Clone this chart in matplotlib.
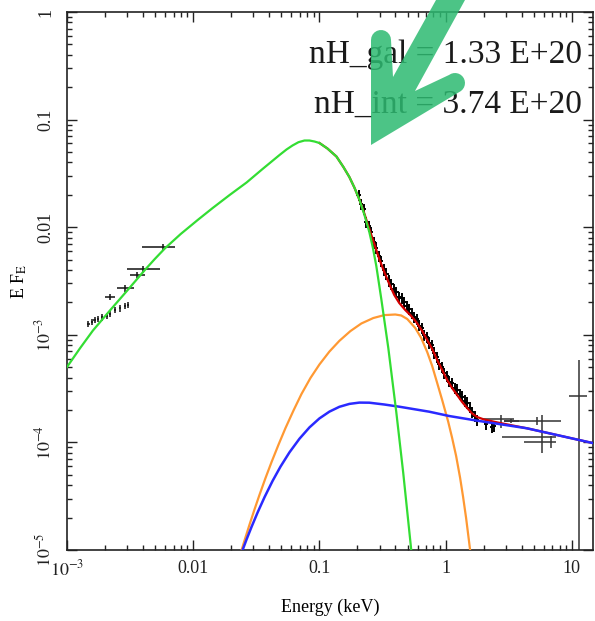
import numpy as np
import matplotlib.pyplot as plt
from matplotlib.patches import Polygon
from matplotlib.ticker import LogLocator, NullFormatter

plt.rcParams['font.family'] = ['Liberation Serif', 'DejaVu Serif']
plt.rcParams['mathtext.fontset'] = 'stix'

# ---- model curves (E in keV, E*F_E) ----
green_e = [1.000e-3, 1.267e-3, 1.605e-3, 2.187e-3, 2.980e-3, 4.136e-3, 4.961e-3, 5.952e-3,
           7.963e-3, 0.01085, 0.01426, 0.01943, 0.02647, 0.03543, 0.04829, 0.05484, 0.06117,
           0.06823, 0.07608, 0.08334, 0.09130, 0.1000, 0.1157, 0.1363, 0.1548, 0.1726, 0.1891,
           0.2071, 0.2268, 0.2484, 0.2648, 0.2822, 0.3091, 0.3512, 0.4062, 0.4613, 0.5337]
green_f = [5.02e-4, 7.49e-4, 1.096e-3, 1.681e-3, 2.554e-3, 4.001e-3, 5.063e-3, 6.339e-3,
           8.65e-3, 0.01167, 0.01508, 0.01992, 0.02603, 0.03475, 0.04688, 0.05274, 0.05746,
           0.06166, 0.06392, 0.06392, 0.06258, 0.06061, 0.05387, 0.04541, 0.03627, 0.02927, 0.02339,
           0.01809, 0.01312, 9.02e-3, 6.48e-3, 4.36e-3, 2.151e-3, 7.54e-4, 1.916e-4, 5.19e-5, 1.0e-5]

orange_e = [0.02417, 0.02600, 0.02796, 0.03063, 0.03355, 0.03742, 0.04175, 0.04742, 0.05385,
            0.06229, 0.07206, 0.08490, 0.1000, 0.1200, 0.1439, 0.1758, 0.2148, 0.2673, 0.3265,
            0.3988, 0.4448, 0.4963, 0.5741, 0.6401, 0.7140, 0.7820, 0.8567, 0.9383, 1.0464,
            1.1255, 1.2106, 1.3020, 1.3746, 1.4521, 1.5620]
orange_f = [1.0e-5, 1.320e-5, 1.729e-5, 2.394e-5, 3.272e-5, 4.68e-5, 6.57e-5, 9.54e-5, 1.361e-4,
            1.979e-4, 2.817e-4, 3.968e-4, 5.30e-4, 6.99e-4, 8.79e-4, 1.082e-3, 1.274e-3, 1.432e-3,
            1.524e-3, 1.544e-3, 1.512e-3, 1.402e-3, 1.157e-3, 9.34e-4, 6.92e-4, 5.13e-4, 3.565e-4,
            2.477e-4, 1.564e-4, 1.099e-4, 7.47e-5, 4.67e-5, 3.11e-5, 1.98e-5, 1.0e-5]

blue_e = [0.02462, 0.02647, 0.02900, 0.03236, 0.03674, 0.04251, 0.04916, 0.05791, 0.06948,
          0.08334, 0.1000, 0.1200, 0.1439, 0.1726, 0.2071, 0.2484, 0.3265, 0.4289, 0.7406,
          1.066, 1.784, 4.409, 14.93]
blue_f = [1.0e-5, 1.255e-5, 1.643e-5, 2.231e-5, 3.10e-5, 4.38e-5, 5.96e-5, 8.09e-5, 1.082e-4,
          1.378e-4, 1.671e-4, 1.932e-4, 2.142e-4, 2.279e-4, 2.344e-4, 2.339e-4, 2.250e-4, 2.147e-4,
          1.929e-4, 1.759e-4, 1.591e-4, 1.352e-4, 9.81e-5]

red_e = [0.1000, 0.1157, 0.1363, 0.1548, 0.1726, 0.1891, 0.2071, 0.2268, 0.2484, 0.2722, 0.2980,
         0.3265, 0.3576, 0.3916, 0.4289, 0.4784, 0.5337, 0.5845, 0.6519, 0.7140, 0.7820, 0.8567,
         0.9383, 1.0276, 1.1255, 1.2327, 1.3503, 1.4791, 1.6203, 1.7749, 2.016, 2.648, 4.409, 14.93]
red_f = [0.06061, 0.05387, 0.04541, 0.03627, 0.02927, 0.02339, 0.01809, 0.01341, 9.62e-3, 6.98e-3,
         5.06e-3, 3.834e-3, 2.966e-3, 2.344e-3, 1.975e-3, 1.700e-3, 1.495e-3, 1.315e-3, 1.085e-3,
         8.95e-4, 7.38e-4, 5.83e-4, 4.71e-4, 3.80e-4, 3.20e-4, 2.757e-4, 2.374e-4, 2.088e-4,
         1.856e-4, 1.722e-4, 1.632e-4, 1.521e-4, 1.352e-4, 9.81e-5]

# ---- optical / UV points ----
uv_e = [5.77e-3, 4.01e-3, 3.57e-3, 2.88e-3, 2.19e-3,
        1.47e-3, 1.58e-3, 1.66e-3, 1.76e-3, 1.89e-3, 2.07e-3, 2.19e-3, 2.39e-3, 2.62e-3, 2.87e-3, 3.03e-3]
uv_e_lo = [3.96e-3, 3.00e-3, 3.15e-3, 2.50e-3, 2.00e-3,
           1.43e-3, 1.54e-3, 1.62e-3, 1.72e-3, 1.85e-3, 2.02e-3, 2.14e-3, 2.34e-3, 2.56e-3, 2.81e-3, 2.97e-3]
uv_e_hi = [7.14e-3, 5.43e-3, 4.14e-3, 3.39e-3, 2.39e-3,
           1.51e-3, 1.62e-3, 1.70e-3, 1.80e-3, 1.93e-3, 2.12e-3, 2.24e-3, 2.44e-3, 2.68e-3, 2.93e-3, 3.09e-3]
uv_f = [6.5e-3, 4.06e-3, 3.6e-3, 2.70e-3, 2.26e-3,
        1.26e-3, 1.32e-3, 1.37e-3, 1.40e-3, 1.46e-3, 1.50e-3, 1.56e-3, 1.70e-3, 1.77e-3, 1.85e-3, 1.89e-3]
UV_REL_F = 0.07

# ---- X-ray points (soft band) ----
xr_e = [0.204, 0.214, 0.224, 0.234, 0.245, 0.257, 0.269, 0.282, 0.295, 0.309, 0.324, 0.339,
        0.355, 0.372, 0.389, 0.407, 0.427, 0.447, 0.468, 0.490, 0.513, 0.537, 0.562, 0.589,
        0.617, 0.646, 0.676, 0.708, 0.741, 0.776, 0.813, 0.851, 0.891, 0.933, 0.977, 1.023,
        1.072, 1.122, 1.175, 1.230, 1.288, 1.349, 1.413, 1.479, 1.549, 1.622, 1.698, 1.778,
        2.09, 2.33, 2.42]
xr_f = [0.01986, 0.01629, 0.01466, 0.01109, 0.01030, 8.93e-3, 7.26e-3, 6.46e-3, 5.37e-3, 4.85e-3,
        4.03e-3, 3.70e-3, 3.18e-3, 2.94e-3, 2.67e-3, 2.50e-3, 2.24e-3, 2.19e-3, 2.01e-3, 1.86e-3,
        1.72e-3, 1.59e-3, 1.46e-3, 1.39e-3, 1.22e-3, 1.16e-3, 1.00e-3, 9.55e-4, 8.45e-4, 8.04e-4,
        6.84e-4, 6.21e-4, 5.31e-4, 4.99e-4, 4.38e-4, 4.11e-4, 3.68e-4, 3.53e-4, 3.20e-4, 3.10e-4,
        2.81e-4, 2.67e-4, 2.44e-4, 2.34e-4, 2.11e-4, 1.90e-4, 1.75e-4, 1.61e-4,
        1.48e-4, 1.39e-4, 1.42e-4]
XR_REL_E = 0.04
XR_REL_F = 0.12

# ---- X-ray points (hard band, wide bins) ----
hx_e = [2.75, 3.30, 5.28, 5.79, 6.82, 11.35]
hx_e_lo = [1.94, 2.90, 2.90, 2.80, 4.18, 9.47]
hx_e_hi = [3.48, 3.81, 8.18, 7.48, 7.48, 13.2]
hx_f = [1.65e-4, 1.58e-4, 1.58e-4, 1.12e-4, 1.01e-4, 2.70e-4]
hx_f_lo = [1.36e-4, 1.50e-4, 1.45e-4, 7.97e-5, 8.87e-5, 1.0e-6]
hx_f_hi = [1.80e-4, 1.66e-4, 1.72e-4, 1.80e-4, 1.15e-4, 5.83e-4]

nh_labels = ['nH_gal = 1.33 E+20', 'nH_int = 3.74 E+20']

fig = plt.figure(figsize=(5.95, 6.21), dpi=100)
ax = fig.add_axes([67 / 595, 1 - 550 / 621, 526 / 595, 538 / 621])
ax.set_xscale('log')
ax.set_yscale('log')
ax.set_xlim(1e-3, 14.7)
ax.set_ylim(1e-5, 1)

# data
uv_e = np.array(uv_e)
uv_f = np.array(uv_f)
ax.errorbar(uv_e, uv_f, xerr=[uv_e - np.array(uv_e_lo), np.array(uv_e_hi) - uv_e],
            yerr=uv_f * UV_REL_F,
            fmt='none', ecolor='#111111', elinewidth=1.1, capsize=0, zorder=2)
xr_e = np.array(xr_e)
xr_f = np.array(xr_f)
ax.errorbar(xr_e, xr_f, xerr=xr_e * XR_REL_E, yerr=xr_f * XR_REL_F,
            fmt='none', ecolor='black', elinewidth=1.4, capsize=0, zorder=2)
hx_e = np.array(hx_e)
hx_f = np.array(hx_f)
ax.errorbar(hx_e, hx_f, xerr=[hx_e - np.array(hx_e_lo), np.array(hx_e_hi) - hx_e],
            yerr=[hx_f - np.array(hx_f_lo), np.array(hx_f_hi) - hx_f],
            fmt='none', ecolor='#333333', elinewidth=1.1, capsize=0, zorder=2)

# models
ax.plot(red_e, red_f, color='#d40000', lw=1.6, zorder=3)
ax.plot(orange_e, orange_f, color='#ff9933', lw=1.6, zorder=4)
ax.plot(blue_e, blue_f, color='#2a2aff', lw=1.8, zorder=4)
ax.plot(green_e, green_f, color='#33dd33', lw=1.6, zorder=5)

# ticks
ax.set_xticks([1e-3, 1e-2, 1e-1, 1, 10])
ax.set_xticklabels(['$10^{-3}$', '0.01', '0.1', '1', '10'])
ax.set_yticks([1e-5, 1e-4, 1e-3, 1e-2, 1e-1, 1])
ax.set_yticklabels(['$10^{-5}$', '$10^{-4}$', '$10^{-3}$', '0.01', '0.1', '1'])
for a in (ax.xaxis, ax.yaxis):
    a.set_minor_locator(LogLocator(base=10, subs=np.arange(2, 10), numticks=20))
    a.set_minor_formatter(NullFormatter())
ax.tick_params(which='both', direction='in', top=True, right=True, colors='#222222',
               labelsize=13, width=1.0)
ax.tick_params(which='major', length=7)
ax.tick_params(which='minor', length=3.5)
ax.tick_params(axis='x', pad=7)
ax.tick_params(axis='y', pad=9)
for lab in ax.get_yticklabels():
    lab.set_rotation(90)
    lab.set_va('center')
for sp in ax.spines.values():
    sp.set_linewidth(1.2)
    sp.set_color('#222222')

ax.set_xlabel('Energy (keV)', fontsize=13, labelpad=14)
ax.set_ylabel(r'E F$_{\rm E}$', fontsize=13, labelpad=4)

ax.text(0.979, 0.905, nh_labels[0], transform=ax.transAxes, ha='right', va='baseline',
        fontsize=24, color='#1a1a1a')
ax.text(0.979, 0.812, nh_labels[1], transform=ax.transAxes, ha='right', va='baseline',
        fontsize=24, color='#1a1a1a')

# green arrow overlay (drawn in pixel space of the figure)
W, H = 595, 621
pts = [(441.6, -10), (393, 77), (391, 40)]
t = np.linspace(0, np.pi, 12)
pts += list(zip(381 + 10 * np.cos(t), 40 - 10 * np.sin(t)))
pts += [(371, 145), (461, 91)]
a = np.radians(np.linspace(53.6, -126.4, 14))
pts += list(zip(455 + 10 * np.cos(a), 83 + 10 * np.sin(a)))
pts += [(415, 91), (470.5, -10)]
pts = np.array(pts)
verts = np.column_stack([pts[:, 0] / W, 1 - pts[:, 1] / H])
fig.patches.append(Polygon(verts, closed=True, transform=fig.transFigure, facecolor='#2dba71',
                           edgecolor='none', alpha=0.85, zorder=10))

fig.savefig('out.png', dpi=100)
